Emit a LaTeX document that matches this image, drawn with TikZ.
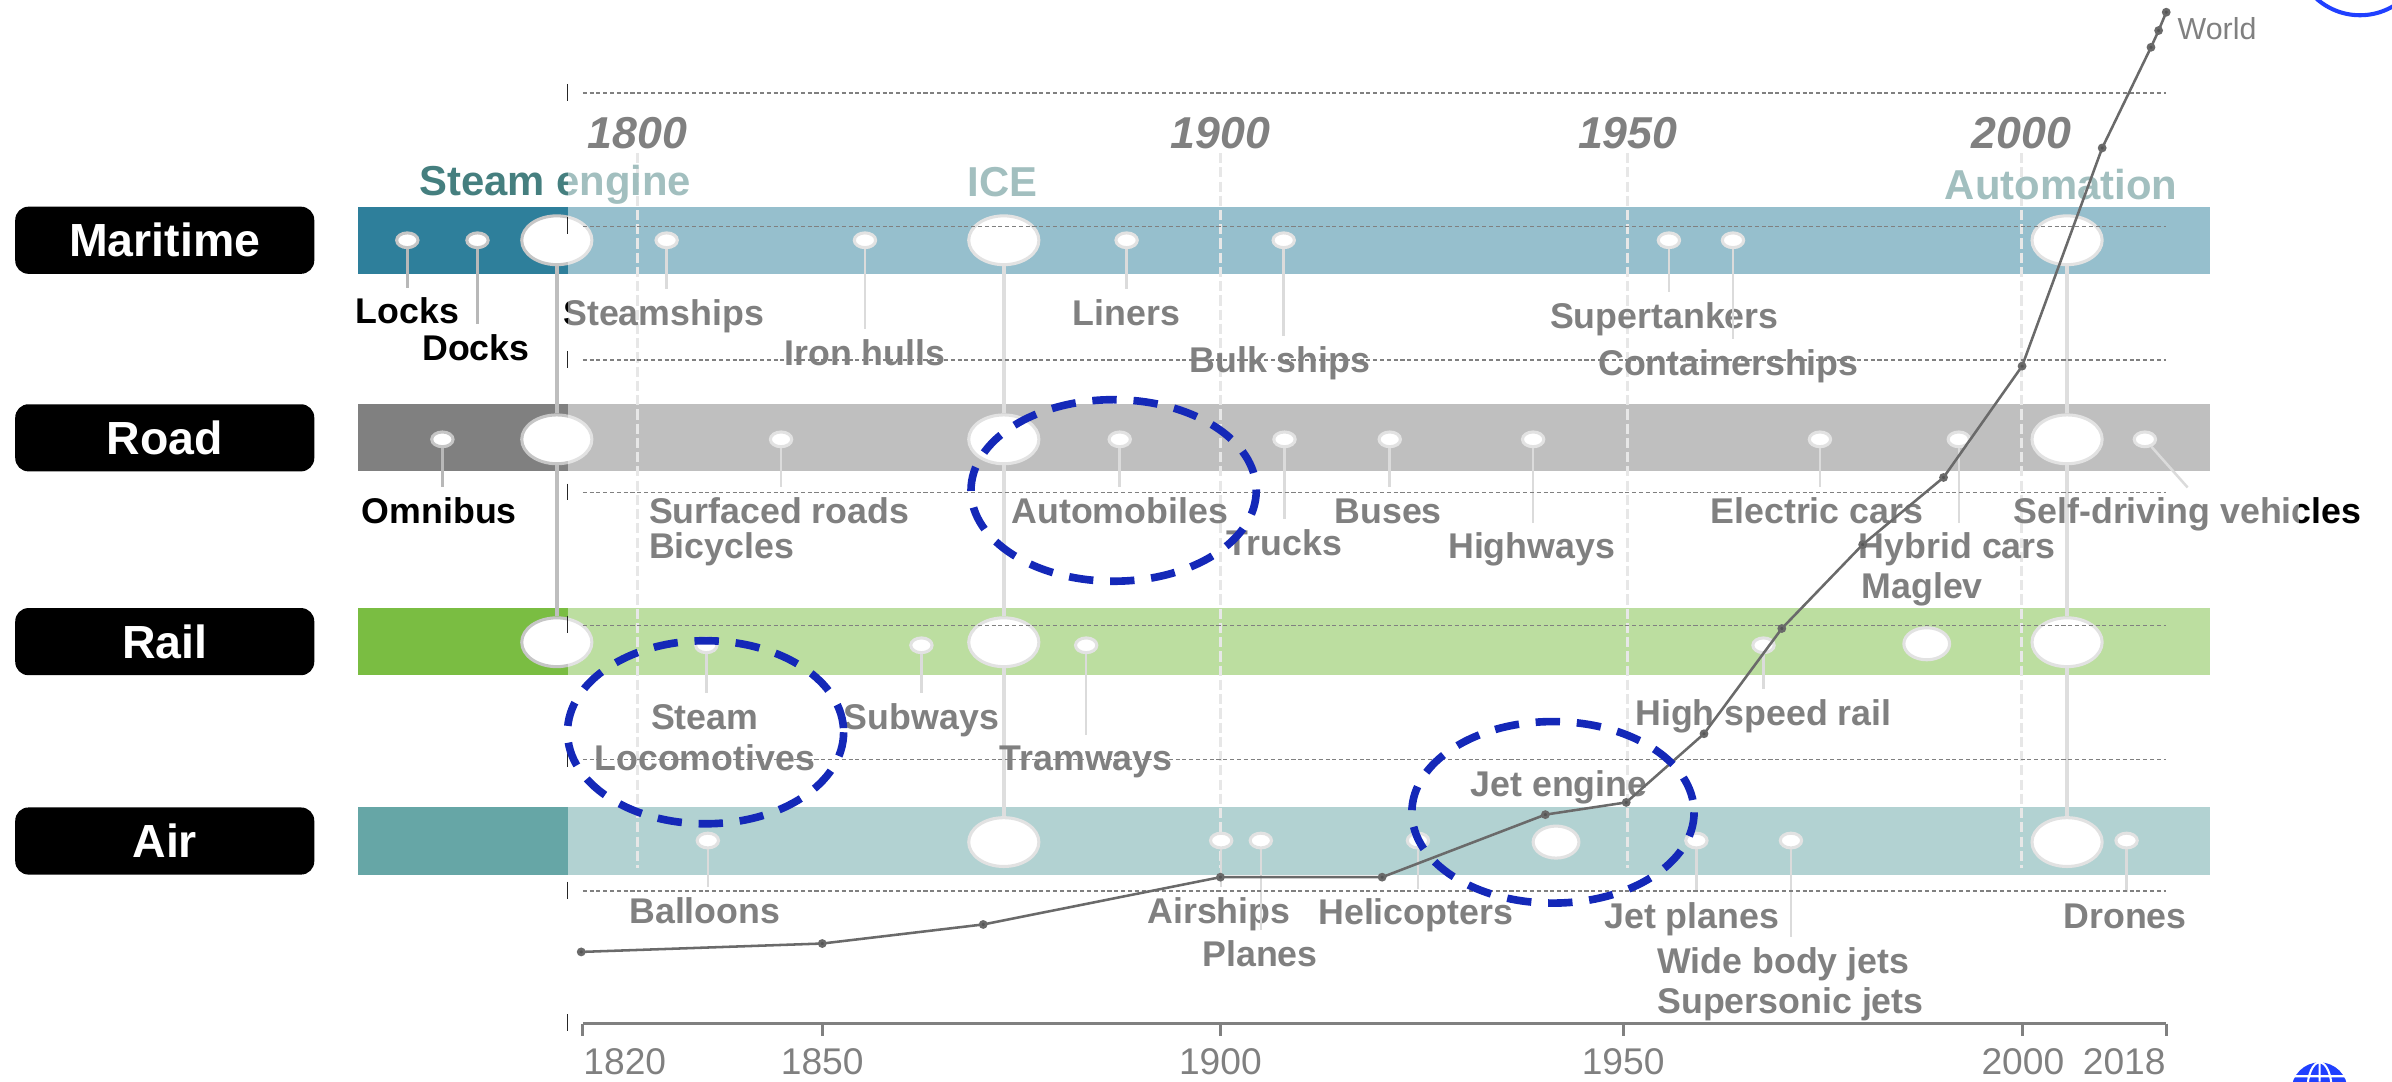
\documentclass[tikz,border=0pt]{standalone}
\usepackage{fontspec}
\setmainfont{Liberation Sans}
\usepackage{tikz}
\usetikzlibrary{shapes.geometric}

\definecolor{seadark}{HTML}{2E7F9B}
\definecolor{roaddark}{HTML}{808080}
\definecolor{raildark}{HTML}{7ABD42}
\definecolor{airdark}{HTML}{66A6A6}
\definecolor{eratext}{HTML}{457F7F}
\definecolor{stemgray}{HTML}{B8B8B8}
\definecolor{ringgray}{HTML}{C6C6C6}
\definecolor{linkgray}{HTML}{BEBEBE}
\definecolor{yeargray}{HTML}{D0D0D0}
\definecolor{worldgray}{HTML}{6A6A6A}
\definecolor{axisgray}{HTML}{808080}
\definecolor{notesblue}{HTML}{1428B8}
\definecolor{logoblue}{HTML}{2040FF}

\begin{document}
\begin{tikzpicture}[x=0.15mm, y=-0.15mm,
  catbox/.style={fill=black, rounded corners=1.3mm, minimum width=29.4mm, minimum height=6.6mm, inner sep=0pt, text=white, font=\fontsize{13}{15}\selectfont\bfseries},
  pindot/.style={ellipse, draw=ringgray, line width=0.3mm, fill=white, inner sep=0pt, minimum width=2.1mm, minimum height=1.45mm},
  bigdot/.style={pindot, minimum width=6.9mm, minimum height=4.8mm},
  middot/.style={pindot, minimum width=4.5mm, minimum height=3.15mm},
  lbl/.style={font=\fontsize{10}{12}\selectfont\bfseries, text height=2.6mm, text depth=0.7mm, inner xsep=0pt, inner ysep=0.9mm},
  era/.style={font=\fontsize{11.7}{14}\selectfont\bfseries, text=eratext, text height=2.9mm, text depth=0.8mm, inner sep=0pt},
  yearlbl/.style={font=\fontsize{12.5}{15}\selectfont\bfseries\itshape, inner sep=0.3mm},
  axlbl/.style={font=\fontsize{10.4}{12}\selectfont, text=axisgray, inner sep=0pt},
  stemline/.style={draw=stemgray, line width=0.25mm},
  eralink/.style={draw=linkgray, line width=0.4mm},
  gridline/.style={black, line width=0.13mm, dash pattern=on 0.4mm off 0.27mm},
  yearline/.style={yeargray, line width=0.26mm, dash pattern=on 1mm off 0.4mm},
  axtick/.style={black!85, line width=0.15mm},
  worldline/.style={worldgray, line width=0.25mm},
  axisline/.style={axisgray, line width=0.3mm},
  noteloop/.style={notesblue, line width=0.75mm, dash pattern=on 2.4mm off 1.65mm},
]
\useasboundingbox (0,0) rectangle (1568,709);

% mode bars
\fill[seadark]  (235,135.5) rectangle (1449,179.6);
\fill[roaddark] (235,265)   rectangle (1449,309);
\fill[raildark] (235,398.7) rectangle (1449,442.5);
\fill[airdark]  (235,529)   rectangle (1449,573.6);

\node[catbox] (maritime) at (108,157.5) {Maritime};
\node[catbox] (road)     at (108,287)   {Road};
\node[catbox] (rail)     at (108,420.6) {Rail};
\node[catbox] (air)      at (108,551.3) {Air};

% years on top
\node[yearlbl] (y1800) at (418,87.5)  {1800};
\node[yearlbl] (y1900) at (800,87.5)  {1900};
\node[yearlbl] (y1950) at (1067,87.5) {1950};
\node[yearlbl] (y2000) at (1325,87.5) {2000};
\coordinate (ybot) at (0,569);
\foreach \yr in {y1800,y1900,y1950,y2000}
  \draw[yearline] (\yr.south) -- (\yr.south |- ybot);

\node[era] (steameng)   at (364,121) {Steam engine};
\node[era] (ice)        at (657,122) {ICE};
\node[era] (automation) at (1351,124) {Automation};

% milestones
\node[bigdot] (msteam)  at (365,157.5) {};
\node[bigdot] (mice)    at (658,157.5) {};
\node[bigdot] (mauto)   at (1355,157.5) {};
\node[bigdot] (rdsteam) at (365,288) {};
\node[bigdot] (rdice)   at (658,288) {};
\node[bigdot] (rdauto)  at (1355,288) {};
\node[bigdot] (rlsteam) at (365,421) {};
\node[bigdot] (rlice)   at (658,421) {};
\node[bigdot] (rlauto)  at (1355,421) {};
\node[bigdot] (airice)  at (658,552) {};
\node[bigdot] (airauto) at (1355,552) {};
\node[middot] (maglev)    at (1263,422) {};
\node[middot] (jetengine) at (1020,552) {};

\draw[eralink] (msteam) -- (rdsteam) -- (rlsteam);
\draw[eralink] (mice) -- (rdice) -- (rlice) -- (airice);
\draw[eralink] (mauto) -- (rdauto) -- (rlauto) -- (airauto);

% maritime
\node[pindot] (locks)      at (267,157.5)  {};
\node[pindot] (docks)      at (313,157.5)  {};
\node[pindot] (steamships) at (437,157.5)  {};
\node[pindot] (ironhulls)  at (567,157.5)  {};
\node[pindot] (liners)     at (738.5,157.5) {};
\node[pindot] (bulk)       at (841.5,157.5) {};
\node[pindot] (supert)     at (1094,157.5) {};
\node[pindot] (contain)    at (1136,157.5) {};
\node[lbl] (lockslbl)      at (267,206)  {Locks};
\node[lbl] (dockslbl)      at (312,230)  {Docks};
\node[lbl] (steamshipslbl) at (435,207)  {Steamships};
\node[lbl] (ironhullslbl)  at (567,233)  {Iron hulls};
\node[lbl] (linerslbl)     at (738.5,207) {Liners};
\node[lbl] (bulklbl)       at (839,238)  {Bulk ships};
\node[lbl] (supertlbl)     at (1091,209) {Supertankers};
\node[lbl] (containlbl)    at (1133,240) {Containerships};
\foreach \p in {locks,docks,steamships,ironhulls,liners,bulk,supert,contain}
  \draw[stemline] (\p) -- (\p |- \p lbl.north);

% road
\node[pindot] (omnibus)  at (290,288)  {};
\node[pindot] (surfaced) at (512,288)  {};
\node[pindot] (automob)  at (734,288)  {};
\node[pindot] (trucks)   at (842,288)  {};
\node[pindot] (buses)    at (911,288)  {};
\node[pindot] (highways) at (1005,288) {};
\node[pindot] (electric) at (1193,288) {};
\node[pindot] (hybrid)   at (1284,288) {};
\node[pindot] (selfdrv)  at (1406,288) {};
\node[lbl] (omnibuslbl)  at (288,337)  {Omnibus};
\node[lbl, anchor=west] (surfacedlbl) at (425,337) {Surfaced roads};
\node[lbl, anchor=west] (bicycleslbl) at (425,360) {Bicycles};
\node[lbl] (automoblbl)  at (734,337)  {Automobiles};
\node[lbl] (truckslbl)   at (842,358)  {Trucks};
\node[lbl] (buseslbl)    at (910,337)  {Buses};
\node[lbl] (highwayslbl) at (1004,360) {Highways};
\node[lbl] (electriclbl) at (1191,337) {Electric cars};
\node[lbl] (hybridlbl)   at (1283,360) {Hybrid cars};
\node[lbl] (magleflbl)   at (1260,386) {Maglev};
\node[lbl] (selfdrvlbl)  at (1434,337) {Self-driving vehicles};
\foreach \p in {omnibus,surfaced,automob,trucks,buses,highways,electric,hybrid}
  \draw[stemline] (\p) -- (\p |- \p lbl.north);
\draw[stemline] (selfdrv) -- (selfdrvlbl.north);

% rail
\node[pindot] (steamloco) at (463,423)  {};
\node[pindot] (subways)   at (604,423)  {};
\node[pindot] (tramways)  at (712,423)  {};
\node[pindot] (hsr)       at (1156,423) {};
\node[lbl] (steamlocolbl) at (462,472)  {Steam};
\node[lbl] (locolbl)      at (462,499)  {Locomotives};
\node[lbl] (subwayslbl)   at (604,472)  {Subways};
\node[lbl] (tramwayslbl)  at (712,499)  {Tramways};
\node[lbl] (hsrlbl)       at (1156,469) {High speed rail};
\foreach \p in {steamloco,subways,tramways,hsr}
  \draw[stemline] (\p) -- (\p |- \p lbl.north);

% air
\node[pindot] (balloons)    at (464,551)   {};
\node[pindot] (airships)    at (800.5,551) {};
\node[pindot] (planes)      at (826.5,551) {};
\node[pindot] (helicopters) at (929.5,551) {};
\node[pindot] (jetplanes)   at (1112,551)  {};
\node[pindot] (widebody)    at (1174,551)  {};
\node[pindot] (drones)      at (1394,551)  {};
\node[lbl] (balloonslbl)    at (462,599)  {Balloons};
\node[lbl] (airshipslbl)    at (799,599)  {Airships};
\node[lbl] (planeslbl)      at (826,627)  {Planes};
\node[lbl] (helicopterslbl) at (928,600)  {Helicopters};
\node[lbl] (jetenginelbl)   at (1022,516) {Jet engine};
\node[lbl] (jetplaneslbl)   at (1109,602) {Jet planes};
\node[lbl, anchor=west] (widebodylbl)   at (1086,632) {Wide body jets};
\node[lbl, anchor=west] (supersoniclbl) at (1086,658) {Supersonic jets};
\node[lbl] (droneslbl)      at (1393,602) {Drones};
\foreach \p in {balloons,airships,planes,helicopters,jetplanes,widebody,drones}
  \draw[stemline] (\p) -- (\p |- \p lbl.north);

% chart grid
\foreach \gy in {61,148.5,236,323,410,498,584}
  \draw[gridline] (382,\gy) -- (1420,\gy);

% the later centuries are washed out
\fill[white, opacity=0.5] (372.5,45) rectangle (1507,669);

\foreach \gy in {61,148.5,236,323,410,498,584,671}
  \draw[axtick] (372,\gy-6) -- (372,\gy+5);

% world curve
\draw[worldline] plot[mark=*, mark size=0.3mm, mark options={fill=worldgray!80!black, draw=none}] coordinates {
  (381,624) (539,618.5) (644.5,606) (800,575) (906,575) (1013,534) (1066,526)
  (1117,481) (1168,412) (1221,357) (1274,313) (1325.5,240) (1378,97)
  (1410,31) (1415,20) (1420,8)};
\node[anchor=west, font=\fontsize{8.5}{10}\selectfont, text=axisgray, inner sep=0pt] (worldlbl) at (1427,19) {World};

% time axis
\draw[axisline] (382,671) -- (1420,671);
\foreach \tx in {382,539,800,1064,1326,1420}
  \draw[axisline] (\tx,671) -- (\tx,679);
\node[axlbl, anchor=west] (ax1820) at (382,696)  {1820};
\node[axlbl] (ax1850) at (539,696)  {1850};
\node[axlbl] (ax1900) at (800,696)  {1900};
\node[axlbl] (ax1950) at (1064,696) {1950};
\node[axlbl] (ax2000) at (1326,696) {2000};
\node[axlbl, anchor=east] (ax2018) at (1420,696) {2018};

% hand marks
\draw[noteloop] (730,321.5) ellipse [x radius=93.5, y radius=59.5];
\draw[noteloop] (462.5,480) ellipse [x radius=90.5, y radius=60];
\draw[noteloop] (1018,532.5) ellipse [x radius=92.5, y radius=59.5];

\draw[logoblue, line width=0.4mm] (1547,-32.8) circle [radius=42.8];
\fill[logoblue] (1520.5,714.8) circle [radius=18.4];
\draw[white, line width=0.2mm] (1520.5,714.8) ellipse [x radius=8, y radius=18.4]
  (1520.5,696.4) -- (1520.5,709) (1503,705.5) -- (1538,705.5);
\end{tikzpicture}
\end{document}
